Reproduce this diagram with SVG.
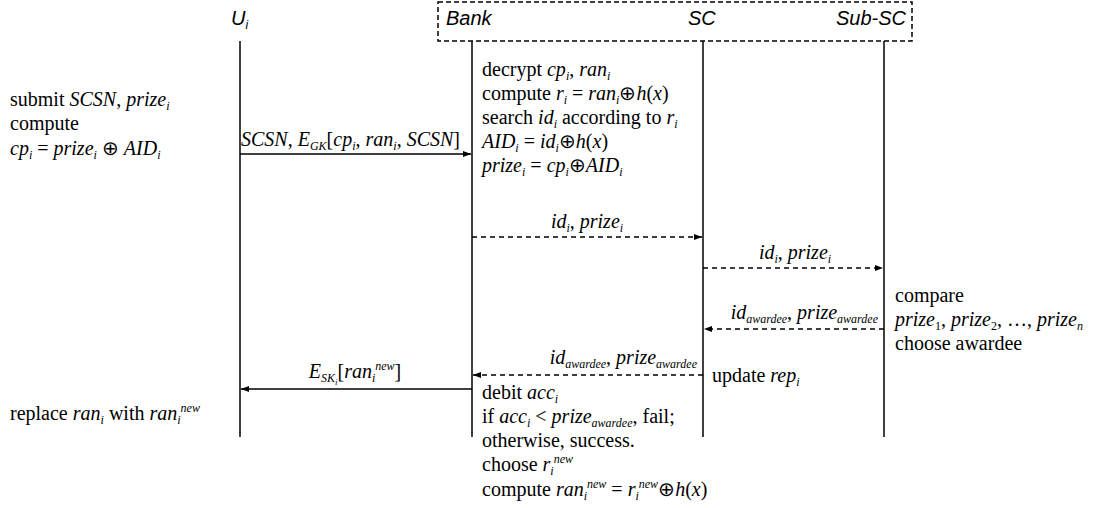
<svg xmlns="http://www.w3.org/2000/svg" width="1100" height="508" viewBox="0 0 1100 508">
<style>
.t{font-family:"Liberation Serif","Times New Roman",serif;font-size:20px;fill:#000}
.i{font-style:italic}
.s{font-size:12px}
.h{font-family:"Liberation Sans",Arial,sans-serif;font-style:italic;font-size:20px;fill:#000}
.life{stroke:#000;stroke-width:1.5;fill:none}
.msg{stroke:#000;stroke-width:1.5;fill:none;marker-end:url(#ah)}
.dash{stroke-dasharray:5,4}
</style>
<defs>
<marker id="ah" markerWidth="8" markerHeight="6" refX="8" refY="3" orient="auto" markerUnits="userSpaceOnUse">
<path d="M0,0 L8,3 L0,6 Z" fill="#000"/>
</marker>
</defs>
<rect x="438" y="2" width="474" height="39" fill="none" stroke="#000" stroke-width="1.5" stroke-dasharray="5,3"/>
<g id="Ui">
<text class="h" x="231" y="25">U<tspan class="s" dy="4">i</tspan></text>
<line class="life" x1="240" y1="41" x2="240" y2="437"/>
</g>
<g id="Bank">
<text class="h" x="446" y="25">Bank</text>
<line class="life" x1="472" y1="41" x2="472" y2="437"/>
</g>
<g id="SC">
<text class="h" x="688" y="25">SC</text>
<line class="life" x1="703" y1="41" x2="703" y2="437"/>
</g>
<g id="SubSC">
<text class="h" x="906" y="25" text-anchor="end">Sub-SC</text>
<line class="life" x1="884" y1="41" x2="884" y2="437"/>
</g>
<g id="connectors">
<line class="msg" x1="240" y1="154" x2="471" y2="154"/>
<line class="msg dash" x1="472" y1="237" x2="702" y2="237"/>
<line class="msg dash" x1="703" y1="268" x2="883" y2="268"/>
<line class="msg dash" x1="884" y1="329" x2="704" y2="329"/>
<line class="msg dash" x1="703" y1="375" x2="473" y2="375"/>
<line class="msg" x1="472" y1="389" x2="241" y2="389"/>
</g>
<g id="labels">
<text class="t" x="241" y="146"><tspan class="i">SCSN</tspan>, <tspan class="i">E</tspan><tspan class="s i" dy="4">GK</tspan><tspan dy="-4">[</tspan><tspan class="i">cp</tspan><tspan class="s i" dy="4">i</tspan><tspan dy="-4">, </tspan><tspan class="i">ran</tspan><tspan class="s i" dy="4">i</tspan><tspan dy="-4">, </tspan><tspan class="i">SCSN</tspan>]</text>
<text class="t" x="587" y="228" text-anchor="middle"><tspan class="i">id</tspan><tspan class="s i" dy="4">i</tspan><tspan dy="-4">, </tspan><tspan class="i">prize</tspan><tspan class="s i" dy="4">i</tspan></text>
<text class="t" x="795" y="259" text-anchor="middle"><tspan class="i">id</tspan><tspan class="s i" dy="4">i</tspan><tspan dy="-4">, </tspan><tspan class="i">prize</tspan><tspan class="s i" dy="4">i</tspan></text>
<text class="t" x="878" y="319" text-anchor="end"><tspan class="i">id</tspan><tspan class="s i" dy="4">awardee</tspan><tspan dy="-4">, </tspan><tspan class="i">prize</tspan><tspan class="s i" dy="4">awardee</tspan></text>
<text class="t" x="697" y="364" text-anchor="end"><tspan class="i">id</tspan><tspan class="s i" dy="4">awardee</tspan><tspan dy="-4">, </tspan><tspan class="i">prize</tspan><tspan class="s i" dy="4">awardee</tspan></text>
<text class="t" x="355" y="378" text-anchor="middle"><tspan class="i">E</tspan><tspan class="s i" dy="4">SK</tspan><tspan class="i" font-size="9" dy="3">i</tspan><tspan dy="-7">[</tspan><tspan class="i">ran</tspan><tspan class="s i" dy="4">i</tspan><tspan class="s i" dy="-12">new</tspan><tspan dy="8">]</tspan></text>
</g>
<g id="notes">
<text class="t" x="10" y="106">submit <tspan class="i">SCSN</tspan>, <tspan class="i">prize</tspan><tspan class="s i" dy="4">i</tspan></text>
<text class="t" x="10" y="130">compute</text>
<text class="t" x="10" y="155"><tspan class="i">cp</tspan><tspan class="s i" dy="4">i</tspan><tspan dy="-4"> = </tspan><tspan class="i">prize</tspan><tspan class="s i" dy="4">i</tspan><tspan dy="-4"> ⊕ </tspan><tspan class="i">AID</tspan><tspan class="s i" dy="4">i</tspan></text>
<text class="t" x="10" y="420">replace <tspan class="i">ran</tspan><tspan class="s i" dy="4">i</tspan><tspan dy="-4"> with </tspan><tspan class="i">ran</tspan><tspan class="s i" dy="4">i</tspan><tspan class="s i" dy="-12">new</tspan></text>

<text class="t" x="482" y="76">decrypt <tspan class="i">cp</tspan><tspan class="s i" dy="4">i</tspan><tspan dy="-4">, </tspan><tspan class="i">ran</tspan><tspan class="s i" dy="4">i</tspan></text>
<text class="t" x="482" y="100">compute <tspan class="i">r</tspan><tspan class="s i" dy="4">i</tspan><tspan dy="-4"> = </tspan><tspan class="i">ran</tspan><tspan class="s i" dy="4">i</tspan><tspan dy="-4">⊕</tspan><tspan class="i">h</tspan>(<tspan class="i">x</tspan>)</text>
<text class="t" x="482" y="124">search <tspan class="i">id</tspan><tspan class="s i" dy="4">i</tspan><tspan dy="-4"> according to </tspan><tspan class="i">r</tspan><tspan class="s i" dy="4">i</tspan></text>
<text class="t" x="482" y="148"><tspan class="i">AID</tspan><tspan class="s i" dy="4">i</tspan><tspan dy="-4"> = </tspan><tspan class="i">id</tspan><tspan class="s i" dy="4">i</tspan><tspan dy="-4">⊕</tspan><tspan class="i">h</tspan>(<tspan class="i">x</tspan>)</text>
<text class="t" x="482" y="172"><tspan class="i">prize</tspan><tspan class="s i" dy="4">i</tspan><tspan dy="-4"> = </tspan><tspan class="i">cp</tspan><tspan class="s i" dy="4">i</tspan><tspan dy="-4">⊕</tspan><tspan class="i">AID</tspan><tspan class="s i" dy="4">i</tspan></text>

<text class="t" x="712" y="382">update <tspan class="i">rep</tspan><tspan class="s i" dy="4">i</tspan></text>

<text class="t" x="895" y="302">compare</text>
<text class="t" x="895" y="326"><tspan class="i">prize</tspan><tspan class="s" dy="4">1</tspan><tspan dy="-4">, </tspan><tspan class="i">prize</tspan><tspan class="s" dy="4">2</tspan><tspan dy="-4">, …, </tspan><tspan class="i">prize</tspan><tspan class="s i" dy="4">n</tspan></text>
<text class="t" x="895" y="350">choose awardee</text>

<text class="t" x="482" y="399">debit <tspan class="i">acc</tspan><tspan class="s i" dy="4">i</tspan></text>
<text class="t" x="482" y="423">if <tspan class="i">acc</tspan><tspan class="s i" dy="4">i</tspan><tspan dy="-4"> &lt; </tspan><tspan class="i">prize</tspan><tspan class="s i" dy="4">awardee</tspan><tspan dy="-4">, fail;</tspan></text>
<text class="t" x="482" y="447">otherwise, success.</text>
<text class="t" x="482" y="471">choose <tspan class="i">r</tspan><tspan class="s i" dy="4">i</tspan><tspan class="s i" dy="-12">new</tspan></text>
<text class="t" x="482" y="496">compute <tspan class="i">ran</tspan><tspan class="s i" dy="4">i</tspan><tspan class="s i" dy="-12">new</tspan><tspan dy="8"> = </tspan><tspan class="i">r</tspan><tspan class="s i" dy="4">i</tspan><tspan class="s i" dy="-12">new</tspan><tspan dy="8">⊕</tspan><tspan class="i">h</tspan>(<tspan class="i">x</tspan>)</text>
</g>
</svg>
